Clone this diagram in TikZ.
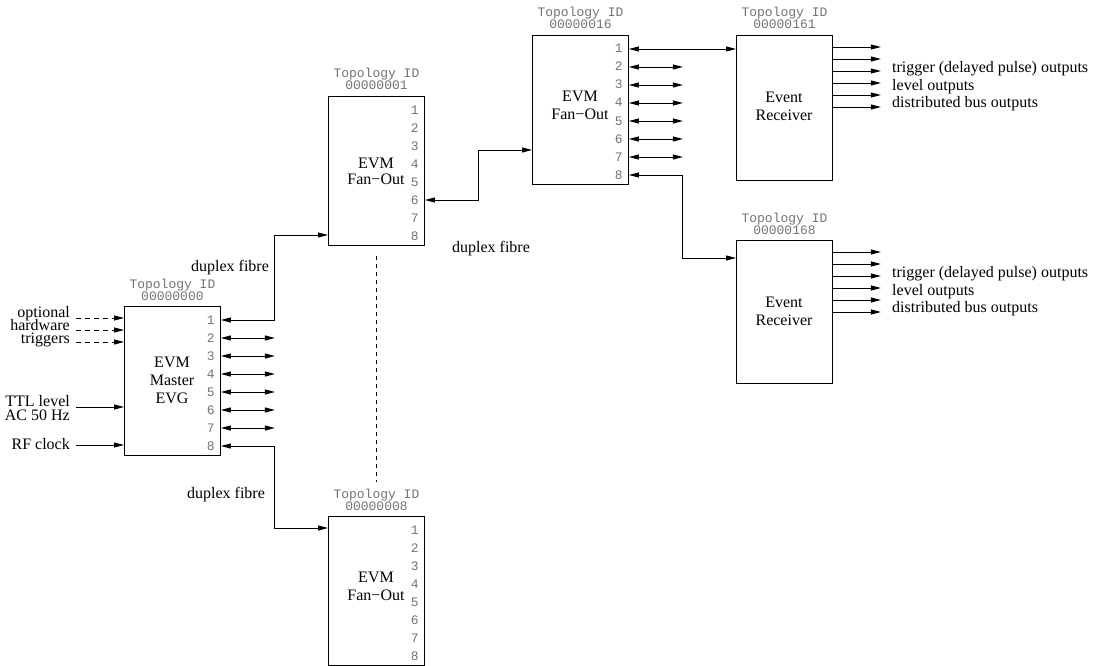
\documentclass[tikz,border=0pt]{standalone}
\usepackage{fontspec}
\setmainfont{Liberation Serif}
\setmonofont{Liberation Mono}
\usetikzlibrary{arrows.meta,calc}
\begin{document}
\begin{tikzpicture}[x=1pt,y=-1pt,
  box/.style={draw, line width=0.9pt, minimum width=96pt, minimum height=149pt, inner sep=0, anchor=north west},
  portnum/.style={font=\fontsize{13}{13}\selectfont\ttfamily, text=black!55, anchor=base east, inner sep=0},
  topo/.style={font=\fontsize{13}{13}\selectfont\ttfamily, text=black!55, anchor=base, inner sep=0},
  lbl/.style={font=\fontsize{16}{18}\selectfont, inner sep=0, anchor=base},
  rlbl/.style={lbl, anchor=base east},
  llbl/.style={lbl, anchor=base west},
  tip/.tip={Triangle[length=10pt,width=5pt]},
  conn/.style={line width=0.9pt, -tip},
  dconn/.style={line width=0.9pt, tip-tip},
  dashconn/.style={conn, dash pattern=on 5pt off 4pt},
]
\useasboundingbox (0,0) rectangle (1105,666);

% ---------- boxes ----------
\node[box] (evg) at (124,306) {};
\node[box] (f1)  at (328,96) {};
\node[box] (f16) at (532,35) {};
\node[box] (f8)  at (328,516) {};
\node[box, minimum height=145pt] (er1) at (736,35) {};
\node[box, minimum height=143pt] (er2) at (736,240) {};

% ---------- ports ----------
\foreach \b in {evg,f1,f16,f8}{
  \foreach \i in {1,...,8}{
    \coordinate (\b p\i) at ($(\b.north east)+(0,{14+18*(\i-1)})$);
    \node[portnum] (\b n\i) at ($(\b p\i)+(-6,4)$) {\i};
  }
}

% ---------- topology labels ----------
\foreach \b/\id in {evg/00000000,f1/00000001,f16/00000016,f8/00000008,er1/00000161,er2/00000168}{
  \node[topo] (\b t1) at ($(\b.north)+(0,-18)$) {Topology ID};
  \node[topo] (\b t2) at ($(\b.north)+(0,-6)$) {\id};
}

% ---------- box texts ----------
\node[lbl] (evgA) at (172,367) {EVM};
\node[lbl] (evgB) at (172,385) {Master};
\node[lbl] (evgC) at (172,403) {EVG};
\node[lbl] (f1A) at (376,168) {EVM};
\node[lbl] (f1B) at (376,184) {Fan−Out};
\node[lbl] (f16A) at (580,102) {EVM};
\node[lbl] (f16B) at (580,120) {Fan−Out};
\node[lbl] (f8A) at (376,582) {EVM};
\node[lbl] (f8B) at (376,600) {Fan−Out};
\node[lbl] (er1A) at (784,103) {Event};
\node[lbl] (er1B) at (784,121) {Receiver};
\node[lbl] (er2A) at (784,307) {Event};
\node[lbl] (er2B) at (784,325) {Receiver};

% ---------- EVG inputs ----------
\coordinate (in1) at (76,318);
\coordinate (in2) at (76,330);
\coordinate (in3) at (76,342);
\coordinate (in4) at (76,407);
\coordinate (in5) at (76,445);
\foreach \k in {1,2,3}{ \draw[dashconn] (in\k) -- (evg.west |- in\k); }
\draw[conn] (in4) -- (evg.west |- in4);
\draw[conn] (in5) -- (evg.west |- in5);
\node[rlbl] (l1) at (70,317) {optional};
\node[rlbl] (l2) at (70,330) {hardware};
\node[rlbl] (l3) at (70,343) {triggers};
\node[rlbl] (l4) at (70,406) {TTL level};
\node[rlbl] (l5) at (70,420) {AC 50 Hz};
\node[rlbl] (l6) at (70,449) {RF clock};

% ---------- entry points ----------
\coordinate (f1in)  at (328,235);
\coordinate (f8in)  at (328,528);
\coordinate (f16in) at (532,150);
\coordinate (er1in) at (736,49);
\coordinate (er2in) at (736,258);

% ---------- fibre links ----------
\draw[dconn] (evgp1) -- ++(54,0) |- (f1in);
\draw[dconn] (evgp8) -- ++(54,0) |- (f8in);
\foreach \i in {2,...,7}{ \draw[dconn] (evgp\i) -- ++(54,0); }
\draw[dconn] (f1p6) -- ++(54,0) |- (f16in);
\draw[dconn] (f16p1) -- (er1in);
\draw[dconn] (f16p8) -- ++(54,0) |- (er2in);
\foreach \i in {2,...,7}{ \draw[dconn] (f16p\i) -- ++(54,0); }

% ---------- dashed continuation ----------
\draw[line width=0.8pt, dash pattern=on 4pt off 4pt] ($(f1.south)+(0,10)$) -- ($(f8.north)+(0,-34)$);

% ---------- duplex fibre labels ----------
\node[lbl] (d1) at (230,271) {duplex fibre};
\node[lbl] (d2) at (491,252) {duplex fibre};
\node[lbl] (d3) at (226,498) {duplex fibre};

% ---------- receiver outputs ----------
\foreach \r in {er1,er2}{
  \foreach \k in {0,...,5}{
    \draw[conn] ($(\r.north east)+(0,{12+12*\k})$) -- ++(48,0);
  }
}
\node[llbl] (o1) at (892,73) {trigger (delayed pulse) outputs};
\node[llbl] (o2) at (892,91) {level outputs};
\node[llbl] (o3) at (892,108) {distributed bus outputs};
\node[llbl] (o4) at (892,277) {trigger (delayed pulse) outputs};
\node[llbl] (o5) at (892,295) {level outputs};
\node[llbl] (o6) at (892,312) {distributed bus outputs};
\end{tikzpicture}
\end{document}
